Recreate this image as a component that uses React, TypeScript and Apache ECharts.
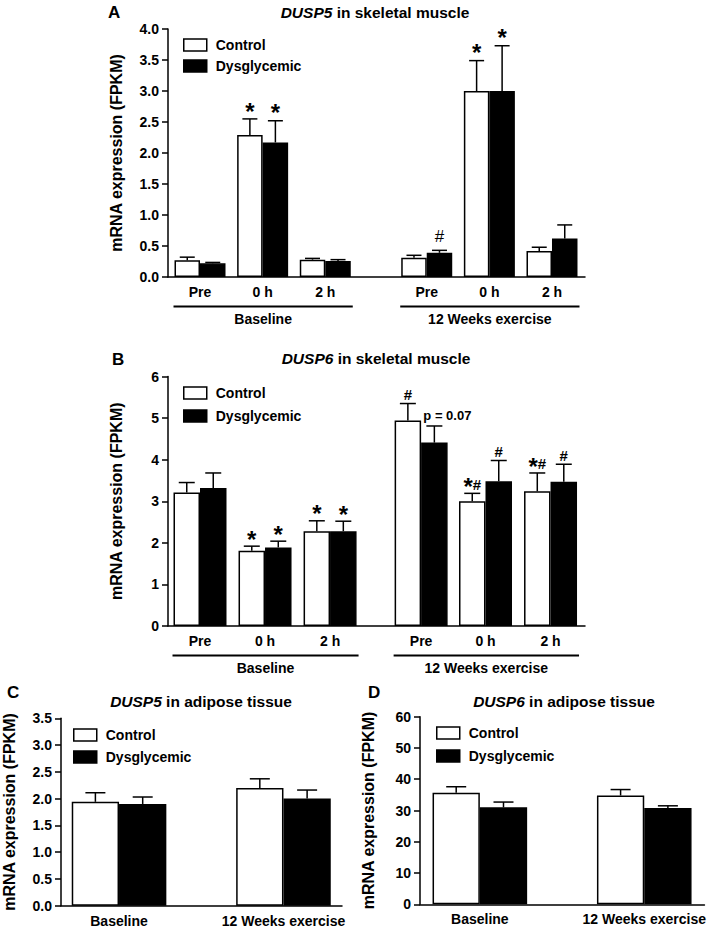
import React, { useEffect, useRef } from 'react';
import * as echarts from 'echarts';

const FONT = '"Liberation Sans", Arial, Helvetica, sans-serif';

const SERIES_NAMES = ['Control', 'Dysglycemic'];
const PERIODS = ['Baseline', '12 Weeks exercise'];
const TIMEPOINTS = ['Pre', '0 h', '2 h', 'Pre', '0 h', '2 h'];
const PANEL_LETTERS = ['A', 'B', 'C', 'D'];
const TITLE_GENES = ['DUSP5', 'DUSP6', 'DUSP5', 'DUSP6'];
const TITLE_TISSUES = [' in skeletal muscle', ' in skeletal muscle', ' in adipose tissue', ' in adipose tissue'];
const Y_NAME = 'mRNA expression (FPKM)';

// A: DUSP5 in skeletal muscle
const A_CONTROL = [0.27, 2.29, 0.28, 0.31, 3.0, 0.42];
const A_CONTROL_SEM = [0.05, 0.26, 0.02, 0.04, 0.49, 0.06];
const A_DYS = [0.22, 2.17, 0.26, 0.39, 3.0, 0.62];
const A_DYS_SEM = [0.015, 0.35, 0.02, 0.04, 0.73, 0.22];
const A_CONTROL_MARKS = ['', '*', '', '', '*', ''];
const A_DYS_MARKS = ['', '*', '', '#', '*', ''];
const A_Y_TICKS = [0, 0.5, 1, 1.5, 2, 2.5, 3, 3.5, 4];

// B: DUSP6 in skeletal muscle
const B_CONTROL = [3.21, 1.81, 2.28, 4.94, 3.0, 3.24];
const B_CONTROL_SEM = [0.24, 0.11, 0.25, 0.41, 0.19, 0.44];
const B_DYS = [3.32, 1.89, 2.28, 4.41, 3.48, 3.47];
const B_DYS_SEM = [0.36, 0.15, 0.24, 0.4, 0.5, 0.42];
const B_CONTROL_MARKS = ['', '*', '*', '#', '*#', '*#'];
const B_DYS_MARKS = ['', '*', '*', 'p = 0.07', '#', '#'];
const B_Y_TICKS = [0, 1, 2, 3, 4, 5, 6];

// C: DUSP5 in adipose tissue
const C_CONTROL = [1.94, 2.2];
const C_CONTROL_SEM = [0.17, 0.17];
const C_DYS = [1.9, 2.0];
const C_DYS_SEM = [0.13, 0.16];
const C_Y_TICKS = [0, 0.5, 1, 1.5, 2, 2.5, 3, 3.5];

// D: DUSP6 in adipose tissue
const D_CONTROL = [35.7, 34.8];
const D_CONTROL_SEM = [1.9, 1.9];
const D_DYS = [31.0, 30.8];
const D_DYS_SEM = [1.7, 0.7];
const D_Y_TICKS = [0, 10, 20, 30, 40, 50, 60];

const NO_MARKS2 = ['', ''];

const PANELS = [
  {
    grid: { left: 168, top: 29, width: 417, height: 248 },
    slots: [0, 1, 2, 3.62, 4.62, 5.62], xMin: -0.511, xMax: 6.147,
    xLabels: TIMEPOINTS, yTicks: A_Y_TICKS, yDec: 1,
    ctrl: A_CONTROL, ctrlSem: A_CONTROL_SEM, dys: A_DYS, dysSem: A_DYS_SEM,
    ctrlMarks: A_CONTROL_MARKS, dysMarks: A_DYS_MARKS,
    barW: 25.5, capW: 15,
    legend: { left: 183, top: 38, gap: 7 },
    title: { x: 375, y: 12 }, letter: { x: 108, y: 12 },
    mark: { star: 24, hash: 17, hashWeight: 'normal', gap: 4, hashGap: 8 },
    grouped: true,
  },
  {
    grid: { left: 168, top: 376.5, width: 417, height: 249.5 },
    slots: [0, 1, 2, 3.4, 4.39, 5.39], xMin: -0.492, xMax: 5.92,
    xLabels: TIMEPOINTS, yTicks: B_Y_TICKS, yDec: 0,
    ctrl: B_CONTROL, ctrlSem: B_CONTROL_SEM, dys: B_DYS, dysSem: B_DYS_SEM,
    ctrlMarks: B_CONTROL_MARKS, dysMarks: B_DYS_MARKS,
    barW: 26.5, capW: 16,
    legend: { left: 183, top: 386, gap: 9 },
    title: { x: 376, y: 358 }, letter: { x: 112, y: 359 },
    mark: { star: 24, hash: 15, hashWeight: 'bold', gap: 3, hashGap: 4 },
    grouped: true,
  },
  {
    grid: { left: 60, top: 718.3, width: 282, height: 187.4 },
    slots: [0, 1], xMin: -0.353, xMax: 1.356,
    xLabels: PERIODS, yTicks: C_Y_TICKS, yDec: 1,
    ctrl: C_CONTROL, ctrlSem: C_CONTROL_SEM, dys: C_DYS, dysSem: C_DYS_SEM,
    ctrlMarks: NO_MARKS2, dysMarks: NO_MARKS2,
    barW: 47.3, capW: 20,
    legend: { left: 73, top: 728, gap: 8 },
    title: { x: 201, y: 701 }, letter: { x: 7, y: 692 },
    mark: { star: 24, hash: 15, hashWeight: 'bold', gap: 3, hashGap: 4 },
    grouped: false,
  },
  {
    grid: { left: 420, top: 716.7, width: 285, height: 187.6 },
    slots: [0, 1], xMin: -0.364, xMax: 1.366,
    xLabels: PERIODS, yTicks: D_Y_TICKS, yDec: 0,
    ctrl: D_CONTROL, ctrlSem: D_CONTROL_SEM, dys: D_DYS, dysSem: D_DYS_SEM,
    ctrlMarks: NO_MARKS2, dysMarks: NO_MARKS2,
    barW: 47.3, capW: 20,
    legend: { left: 436, top: 726, gap: 9 },
    title: { x: 564, y: 701 }, letter: { x: 368, y: 692 },
    mark: { star: 24, hash: 15, hashWeight: 'bold', gap: 3, hashGap: 4 },
    grouped: false,
  },
];

function markChildren(mark: string, cx: number, capY: number, cfg: any) {
  const out: any[] = [];
  if (mark.startsWith('p')) {
    out.push({
      type: 'text',
      style: {
        text: mark, x: cx - 11, y: capY - 10, font: `bold 13px ${FONT}`, fill: '#000',
        align: 'left', verticalAlign: 'middle',
      },
    });
    return out;
  }
  const chars = mark.split('');
  const adv = chars.map((c) => (c === '*' ? cfg.star * 0.389 : cfg.hash * 0.556));
  const total = adv.reduce((a, b) => a + b, 0);
  let x = cx - total / 2;
  chars.forEach((c, i) => {
    const isStar = c === '*';
    const fs = isStar ? cfg.star : cfg.hash;
    const y = isStar
      ? capY - cfg.gap - 0.16 * fs
      : capY - cfg.hashGap - 0.3465 * fs;
    out.push({
      type: 'text',
      style: {
        text: c, x: x + adv[i] / 2, y,
        font: `${isStar ? 'bold' : cfg.hashWeight} ${fs}px ${FONT}`,
        fill: '#000', align: 'center', verticalAlign: 'middle',
      },
    });
    x += adv[i];
  });
  return out;
}

function errorSeries(pi: number, p: any, means: number[], sems: number[], marks: string[], side: number) {
  return {
    type: 'custom',
    xAxisIndex: pi,
    yAxisIndex: pi,
    z: 5,
    silent: true,
    clip: false,
    data: p.slots.map((s: number, k: number) => [s, means[k], sems[k]]),
    renderItem: (params: any, api: any) => {
      const x = api.value(0);
      const m = api.value(1);
      const e = api.value(2);
      const b = api.coord([x, m]);
      const t = api.coord([x, m + e]);
      const cx = b[0] + (side * p.barW) / 2;
      const children: any[] = [
        { type: 'line', shape: { x1: cx, y1: b[1], x2: cx, y2: t[1] }, style: { stroke: '#000', lineWidth: 1.5 } },
        { type: 'line', shape: { x1: cx - p.capW / 2, y1: t[1], x2: cx + p.capW / 2, y2: t[1] }, style: { stroke: '#000', lineWidth: 1.5 } },
      ];
      const mk = marks[params.dataIndex];
      if (mk) children.push(...markChildren(mk, cx, t[1], p.mark));
      return { type: 'group', children };
    },
  };
}

function buildOption() {
  const grid: any[] = [];
  const xAxis: any[] = [];
  const yAxis: any[] = [];
  const legend: any[] = [];
  const series: any[] = [];
  const axisLineStyle = { color: '#000', width: 1.5 };
  const labelStyle = { color: '#000', fontFamily: FONT, fontWeight: 'bold', fontSize: 14 };

  PANELS.forEach((p, i) => {
    grid.push({ ...p.grid, containLabel: false });
    xAxis.push({
      type: 'value', gridIndex: i, min: p.xMin, max: p.xMax,
      axisLine: { show: true, onZero: false, lineStyle: axisLineStyle },
      axisTick: { show: false },
      splitLine: { show: false },
      axisLabel: {
        ...labelStyle,
        margin: 8,
        customValues: p.slots,
        formatter: (v: number) => {
          const k = p.slots.findIndex((s) => Math.abs(s - v) < 1e-6);
          return k >= 0 ? p.xLabels[k] : '';
        },
      },
    });
    const yt = p.yTicks;
    yAxis.push({
      type: 'value', gridIndex: i, min: yt[0], max: yt[yt.length - 1], interval: yt[1] - yt[0],
      name: Y_NAME, nameLocation: 'middle', nameRotate: 90, nameGap: 44,
      nameTextStyle: { color: '#000', fontFamily: FONT, fontWeight: 'bold', fontSize: 16 },
      axisLine: { show: true, onZero: false, lineStyle: axisLineStyle },
      axisTick: { show: true, length: 6, lineStyle: axisLineStyle },
      splitLine: { show: false },
      axisLabel: { ...labelStyle, margin: 9, formatter: (v: number) => v.toFixed(p.yDec) },
    });
    legend.push({
      left: p.legend.left, top: p.legend.top, orient: 'vertical', padding: 0,
      itemWidth: 23, itemHeight: 12, itemGap: p.legend.gap, icon: 'rect',
      selectedMode: false, data: SERIES_NAMES,
      itemStyle: { borderColor: '#000', borderWidth: 1.5 },
      textStyle: { color: '#000', fontFamily: FONT, fontWeight: 'bold', fontSize: 14, padding: [0, 0, 0, 4] },
    });
    series.push({
      type: 'bar', name: SERIES_NAMES[0], xAxisIndex: i, yAxisIndex: i,
      data: p.slots.map((s, k) => [s, p.ctrl[k]]),
      barWidth: p.barW, barGap: '0%', silent: true, z: 2,
      itemStyle: { color: '#fff', borderColor: '#000', borderWidth: 1.5 },
    });
    series.push({
      type: 'bar', name: SERIES_NAMES[1], xAxisIndex: i, yAxisIndex: i,
      data: p.slots.map((s, k) => [s, p.dys[k]]),
      barWidth: p.barW, barGap: '0%', silent: true, z: 2,
      itemStyle: { color: '#000', borderColor: '#000', borderWidth: 1.5 },
    });
    series.push(errorSeries(i, p, p.ctrl, p.ctrlSem, p.ctrlMarks, -1));
    series.push(errorSeries(i, p, p.dys, p.dysSem, p.dysMarks, 1));
  });

  return {
    animation: false,
    backgroundColor: '#fff',
    textStyle: { fontFamily: FONT },
    grid, xAxis, yAxis, legend, series,
  };
}

function titleGraphics() {
  const out: any[] = [];
  PANELS.forEach((p, i) => {
    out.push({
      type: 'text',
      style: {
        text: `{i|${TITLE_GENES[i]}}{n|${TITLE_TISSUES[i]}}`,
        x: p.title.x, y: p.title.y, align: 'center', verticalAlign: 'middle', fill: '#000',
        font: `bold 15.5px ${FONT}`,
        rich: {
          i: { fontStyle: 'italic', fontWeight: 'bold', fontSize: 15.5, fontFamily: FONT, fill: '#000' },
          n: { fontWeight: 'bold', fontSize: 15.5, fontFamily: FONT, fill: '#000' },
        },
      },
    });
    out.push({
      type: 'text',
      style: {
        text: PANEL_LETTERS[i], x: p.letter.x, y: p.letter.y, align: 'left', verticalAlign: 'middle',
        fill: '#000', font: `bold 17px ${FONT}`,
      },
    });
  });
  return out;
}

export default function App() {
  const ref = useRef<HTMLDivElement>(null);
  useEffect(() => {
    if (!ref.current) return;
    const chart = echarts.init(ref.current, null, { renderer: 'svg' });
    chart.setOption(buildOption() as any);
    const graphic: any[] = titleGraphics();
    PANELS.forEach((p, i) => {
      if (!p.grouped) return;
      const zeroY = chart.convertToPixel({ yAxisIndex: i } as any, 0) as number;
      [[0, 2], [3, 5]].forEach(([a, b], g) => {
        const x1 = (chart.convertToPixel({ xAxisIndex: i } as any, p.slots[a]) as number) - p.barW - 1;
        const x2 = (chart.convertToPixel({ xAxisIndex: i } as any, p.slots[b]) as number) + p.barW + 2;
        graphic.push({
          type: 'line', shape: { x1, y1: zeroY + 29.5, x2, y2: zeroY + 29.5 },
          style: { stroke: '#000', lineWidth: 2 },
        });
        graphic.push({
          type: 'text',
          style: {
            text: PERIODS[g], x: (x1 + x2) / 2, y: zeroY + 42, align: 'center', verticalAlign: 'middle',
            fill: '#000', font: `bold 14px ${FONT}`,
          },
        });
      });
    });
    chart.setOption({ graphic } as any);
    return () => chart.dispose();
  }, []);
  return <div ref={ref} style={{ position: 'absolute', left: 0, top: 0, width: 709, height: 930 }} />;
}
